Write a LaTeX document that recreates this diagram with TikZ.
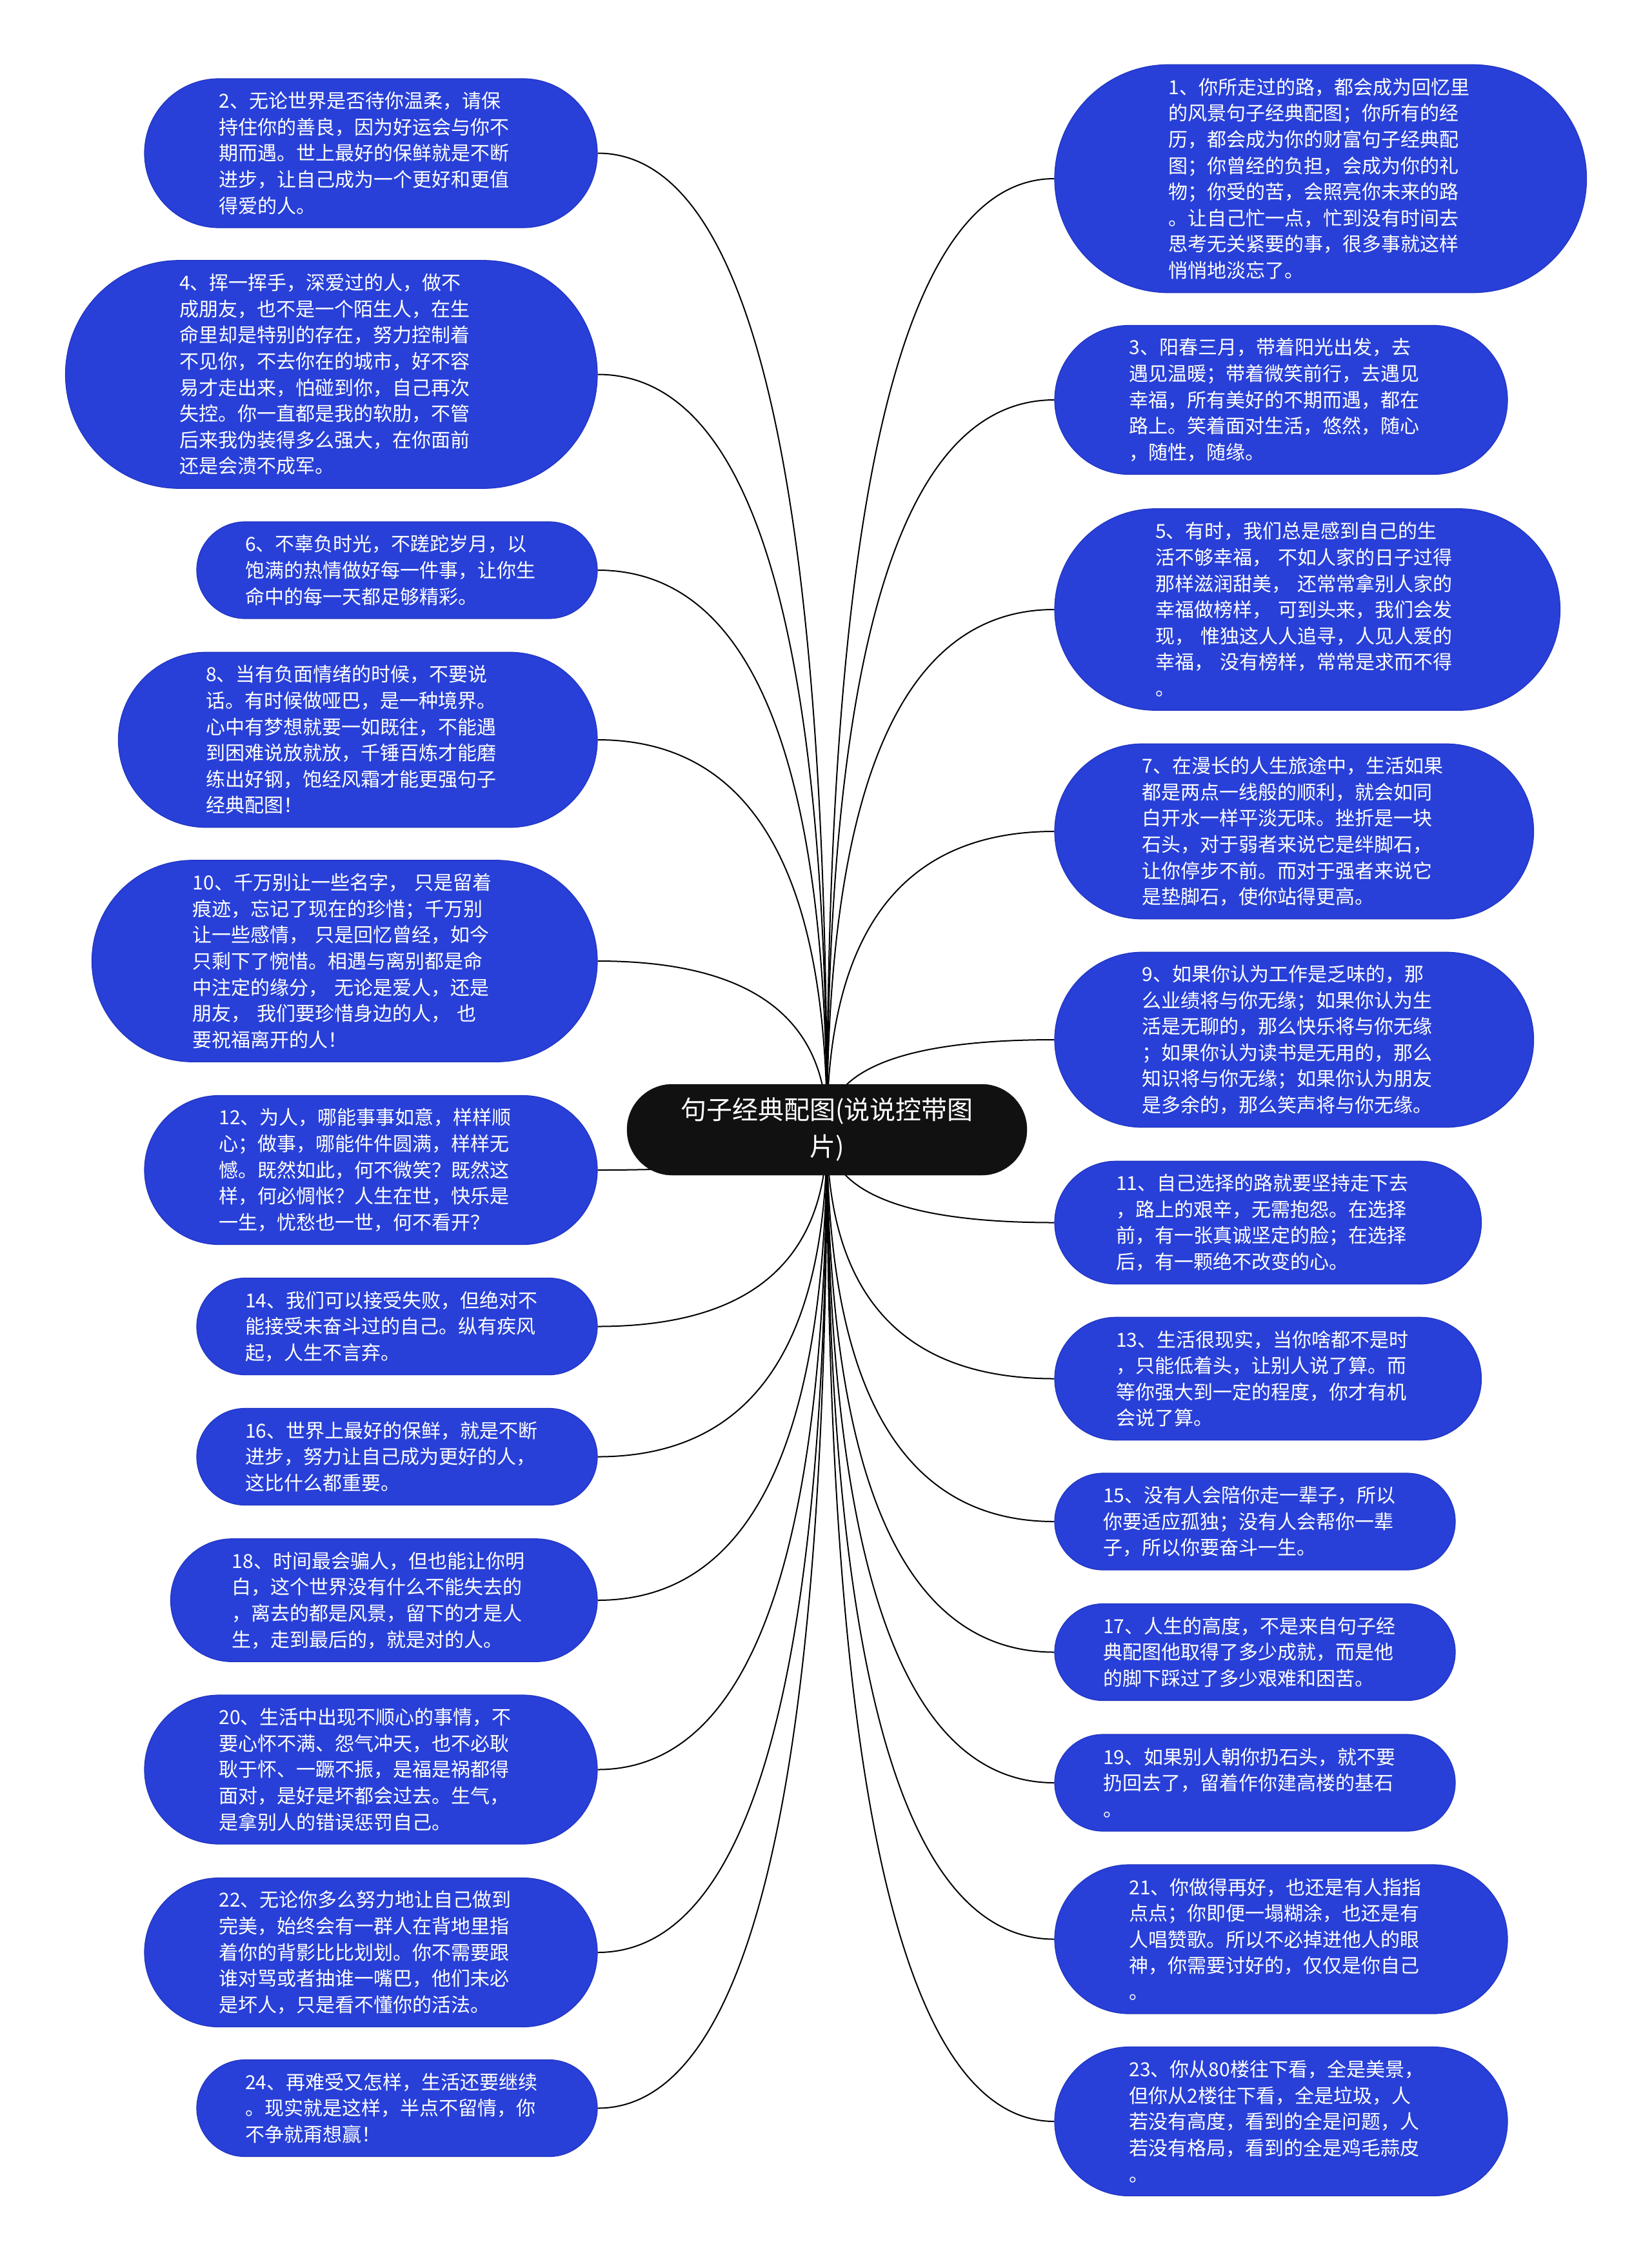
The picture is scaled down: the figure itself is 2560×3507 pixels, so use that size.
\documentclass[tikz,border=0pt]{standalone}
\usepackage{fontspec}
\setmainfont{Noto Sans CJK SC}
\usetikzlibrary{calc}
\pgfdeclarelayer{edges}
\pgfsetlayers{edges,main}
\definecolor{pillblue}{RGB}{40,64,216}
\definecolor{pillrim}{RGB}{32,52,192}
\definecolor{rootfill}{RGB}{17,17,17}
\tikzset{
  blk/.style={fill=pillblue, draw=pillrim, line width=1.2pt, text=white, inner sep=0pt,
    text width=471pt, align=left, font=\fontsize{30pt}{40.6pt}\selectfont},
  l3/.style={minimum width=621pt, minimum height=150pt, rounded corners=74.9pt},
  l4/.style={minimum width=661.5pt, minimum height=190.5pt, rounded corners=95.1pt},
  l5/.style={minimum width=702pt, minimum height=231pt, rounded corners=115.4pt},
  l6/.style={minimum width=742.5pt, minimum height=271.5pt, rounded corners=135.6pt},
  l7/.style={minimum width=783.5pt, minimum height=312.5pt, rounded corners=156.1pt},
  l8/.style={minimum width=824.5pt, minimum height=353.5pt, rounded corners=176.6pt},
  root/.style={fill=rootfill, draw=rootfill, text=white, inner sep=0pt, text width=479pt,
    align=center, minimum width=620pt, minimum height=141pt, rounded corners=70.4pt,
    font=\fontsize{40pt}{57pt}\selectfont},
  link/.style={draw=black, line width=2pt}
}
\begin{document}
\begin{tikzpicture}[x=1pt,y=-1pt]
\useasboundingbox (0,0) rectangle (2560,3507);

\node[root] (C) at (1282,1751.5) {句子经典配图(说说控带图\\片)};

% left column
\node[blk,l5] (A) at (575,237.5) {2、无论世界是否待你温柔，请保\\持住你的善良，因为好运会与你不\\期而遇。世上最好的保鲜就是不断\\进步，让自己成为一个更好和更值\\得爱的人。};
\node[blk,l8] (B) at (513.75,580.5) {4、挥一挥手，深爱过的人，做不\\成朋友，也不是一个陌生人，在生\\命里却是特别的存在，努力控制着\\不见你，不去你在的城市，好不容\\易才走出来，怕碰到你，自己再次\\失控。你一直都是我的软肋，不管\\后来我伪装得多么强大，在你面前\\还是会溃不成军。};
\node[blk,l3] (Cc) at (615.5,884) {6、不辜负时光，不蹉跎岁月，以\\饱满的热情做好每一件事，让你生\\命中的每一天都足够精彩。};
\node[blk,l6] (D) at (554.75,1147) {8、当有负面情绪的时候，不要说\\话。有时候做哑巴，是一种境界。\\心中有梦想就要一如既往，不能遇\\到困难说放就放，千锤百炼才能磨\\练出好钢，饱经风霜才能更强句子\\经典配图！};
\node[blk,l7] (E) at (534.25,1490) {10、千万别让一些名字，~只是留着\\痕迹，忘记了现在的珍惜；千万别\\让一些感情，~只是回忆曾经，如今\\只剩下了惋惜。相遇与离别都是命\\中注定的缘分，~无论是爱人，还是\\朋友，~我们要珍惜身边的人，~也\\要祝福离开的人！};
\node[blk,l5] (F) at (575,1814) {12、为人，哪能事事如意，样样顺\\心；做事，哪能件件圆满，样样无\\憾。既然如此，何不微笑？既然这\\样，何必惆怅？人生在世，快乐是\\一生，忧愁也一世，何不看开？};
\node[blk,l3] (G) at (615.5,2056.5) {14、我们可以接受失败，但绝对不\\能接受未奋斗过的自己。纵有疾风\\起，人生不言弃。};
\node[blk,l3] (H) at (615.5,2258.5) {16、世界上最好的保鲜，就是不断\\进步，努力让自己成为更好的人，\\这比什么都重要。};
\node[blk,l4] (I) at (595.25,2481) {18、时间最会骗人，但也能让你明\\白，这个世界没有什么不能失去的\\，离去的都是风景，留下的才是人\\生，走到最后的，就是对的人。};
\node[blk,l5] (J) at (575,2743.5) {20、生活中出现不顺心的事情，不\\要心怀不满、怨气冲天，也不必耿\\耿于怀、一蹶不振，是福是祸都得\\面对，是好是坏都会过去。生气，\\是拿别人的错误惩罚自己。};
\node[blk,l5] (K) at (575,3027) {22、无论你多么努力地让自己做到\\完美，始终会有一群人在背地里指\\着你的背影比比划划。你不需要跟\\谁对骂或者抽谁一嘴巴，他们未必\\是坏人，只是看不懂你的活法。};
\node[blk,l3] (L) at (615.5,3268.5) {24、再难受又怎样，生活还要继续\\。现实就是这样，半点不留情，你\\不争就甭想赢！};

% right column
\node[blk,l8] (ra) at (2047.25,277) {1、你所走过的路，都会成为回忆里\\的风景句子经典配图；你所有的经\\历，都会成为你的财富句子经典配\\图；你曾经的负担，会成为你的礼\\物；你受的苦，会照亮你未来的路\\。让自己忙一点，忙到没有时间去\\思考无关紧要的事，很多事就这样\\悄悄地淡忘了。};
\node[blk,l5] (rb) at (1986,620) {3、阳春三月，带着阳光出发，去\\遇见温暖；带着微笑前行，去遇见\\幸福，所有美好的不期而遇，都在\\路上。笑着面对生活，悠然，随心\\，随性，随缘。};
\node[blk,l7] (rc) at (2026.75,945) {5、有时，我们总是感到自己的生\\活不够幸福，~不如人家的日子过得\\那样滋润甜美，~还常常拿别人家的\\幸福做榜样，~可到头来，我们会发\\现，~惟独这人人追寻，人见人爱的\\幸福，~没有榜样，常常是求而不得\\。};
\node[blk,l6] (rd) at (2006.25,1289) {7、在漫长的人生旅途中，生活如果\\都是两点一线般的顺利，就会如同\\白开水一样平淡无味。挫折是一块\\石头，对于弱者来说它是绊脚石，\\让你停步不前。而对于强者来说它\\是垫脚石，使你站得更高。};
\node[blk,l6] (re) at (2006.25,1612) {9、如果你认为工作是乏味的，那\\么业绩将与你无缘；如果你认为生\\活是无聊的，那么快乐将与你无缘\\；如果你认为读书是无用的，那么\\知识将与你无缘；如果你认为朋友\\是多余的，那么笑声将与你无缘。};
\node[blk,l4] (rf) at (1965.75,1895.5) {11、自己选择的路就要坚持走下去\\，路上的艰辛，无需抱怨。在选择\\前，有一张真诚坚定的脸；在选择\\后，有一颗绝不改变的心。};
\node[blk,l4] (rg) at (1965.75,2137.5) {13、生活很现实，当你啥都不是时\\，只能低着头，让别人说了算。而\\等你强大到一定的程度，你才有机\\会说了算。};
\node[blk,l3] (rh) at (1945.5,2359) {15、没有人会陪你走一辈子，所以\\你要适应孤独；没有人会帮你一辈\\子，所以你要奋斗一生。};
\node[blk,l3] (ri) at (1945.5,2561.5) {17、人生的高度，不是来自句子经\\典配图他取得了多少成就，而是他\\的脚下踩过了多少艰难和困苦。};
\node[blk,l3] (rj) at (1945.5,2764) {19、如果别人朝你扔石头，就不要\\扔回去了，留着作你建高楼的基石\\。};
\node[blk,l5] (rk) at (1986,3006.5) {21、你做得再好，也还是有人指指\\点点；你即便一塌糊涂，也还是有\\人唱赞歌。所以不必掉进他人的眼\\神，你需要讨好的，仅仅是你自己\\。};
\node[blk,l5] (rl) at (1986,3289) {23、你从80楼往下看，全是美景，\\但你从2楼往下看，全是垃圾，人\\若没有高度，看到的全是问题，人\\若没有格局，看到的全是鸡毛蒜皮\\。};

\begin{pgfonlayer}{edges}
\fill[white] (0,0) rectangle (2560,3507);
\foreach \n in {A,B,Cc,D,E,F,G,H,I,J,K,L}
  \draw[link] (C.center) .. controls ($(C.center)!0.6667!(C.center|-\n.east)$) and ($(\n.east)!0.6667!(C.center|-\n.east)$) .. (\n.east);
\foreach \n in {ra,rb,rc,rd,re,rf,rg,rh,ri,rj,rk,rl}
  \draw[link] (C.center) .. controls ($(C.center)!0.6667!(C.center|-\n.west)$) and ($(\n.west)!0.6667!(C.center|-\n.west)$) .. (\n.west);
\end{pgfonlayer}
\end{tikzpicture}
\end{document}
